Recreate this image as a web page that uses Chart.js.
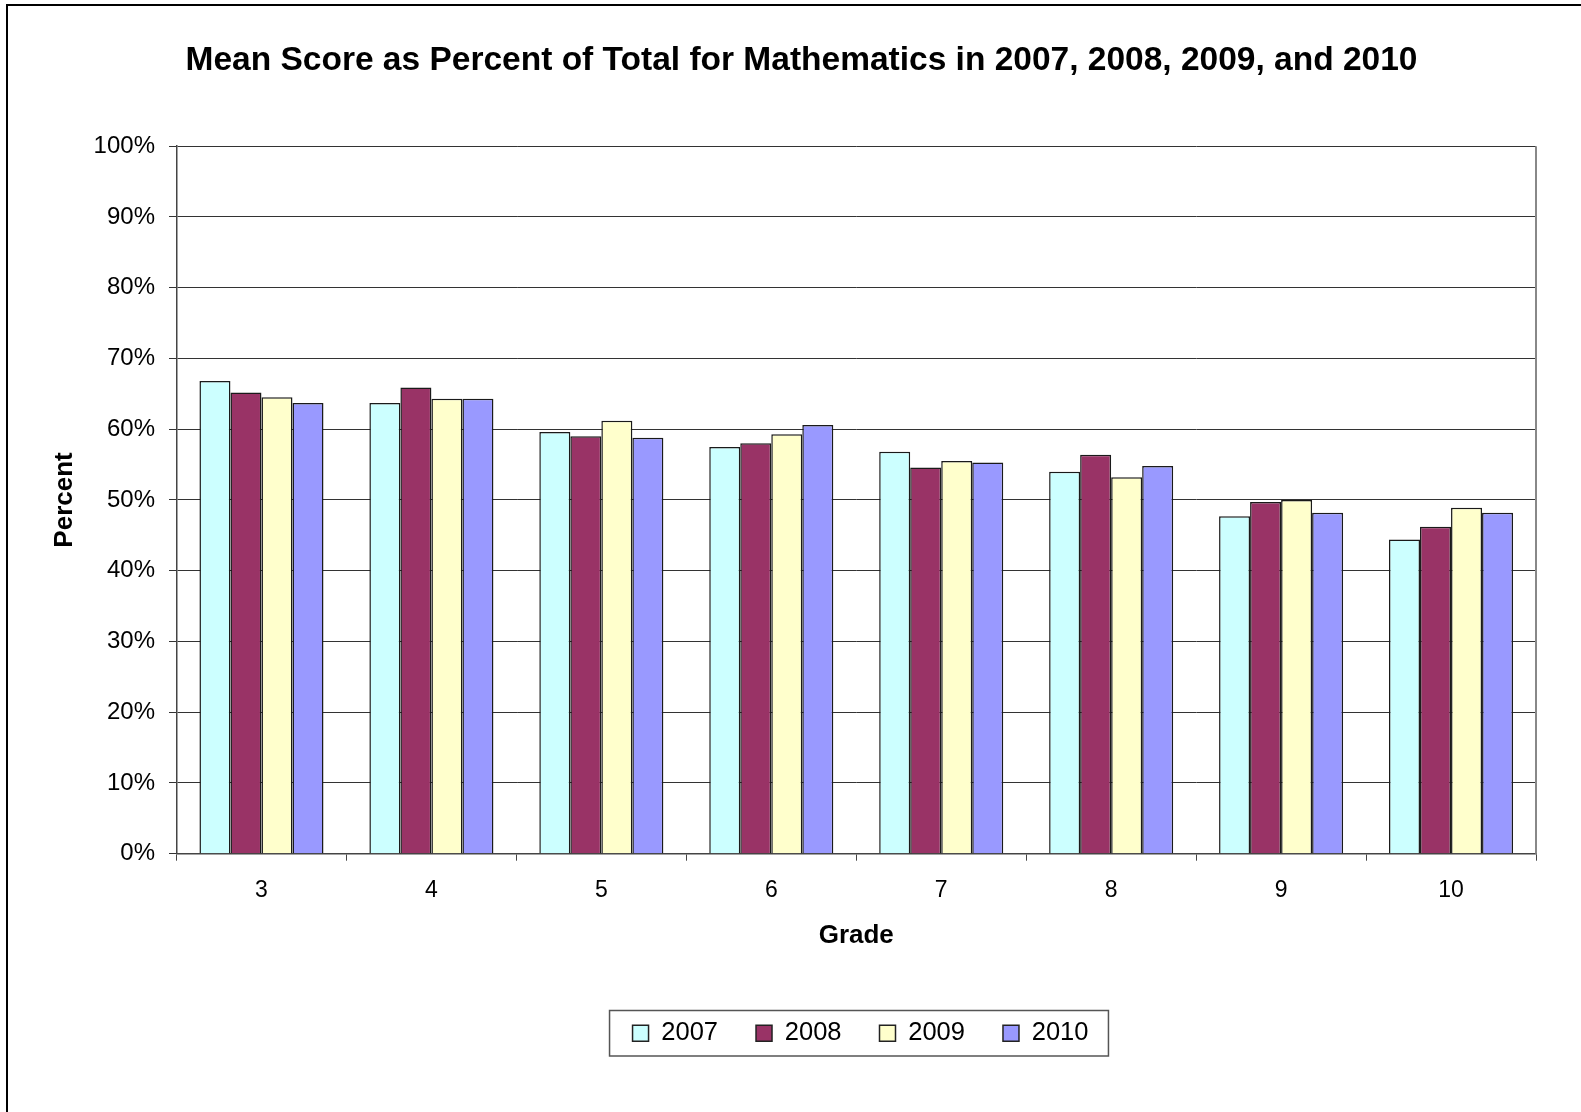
<!DOCTYPE html>
<html>
<head>
<meta charset="utf-8">
<script src="https://cdn.jsdelivr.net/npm/chart.js@4"></script>
<style>
  html, body { margin: 0; padding: 0; background: #fff; }
  #wrap { width: 1581px; height: 1112px; }
</style>
</head>
<body>
<div id="wrap"><canvas id="chart" width="1581" height="1112"></canvas></div>
<script>
// Grades and mean score (% of total) per year
const grades = ["3", "4", "5", "6", "7", "8", "9", "10"];
const y2007 = [66.8, 63.7, 59.6, 57.5, 56.8, 54.0, 47.7, 44.4];
const y2008 = [65.2, 65.9, 59.0, 58.0, 54.6, 56.4, 49.7, 46.2];
const y2009 = [64.5, 64.3, 61.2, 59.3, 55.5, 53.2, 50.0, 48.9];
const y2010 = [63.7, 64.3, 58.8, 60.6, 55.3, 54.8, 48.2, 48.2];
const yTicks = [0, 10, 20, 30, 40, 50, 60, 70, 80, 90, 100];

const FONT = "'Liberation Sans', Arial, sans-serif";

// white background, outer frame, plot right border, legend frame
const decor = {
    id: "decor",
    afterLayout(chart) {
        // legend sits centred under the plot, not the whole canvas
        const lg = chart.legend;
        lg.left += 68;
        lg.right += 68;
        const tb = chart.titleBlock;
        tb.left += 9;
        tb.right += 9;
    },
    beforeDraw(chart) {
        const ctx = chart.ctx;
        ctx.save();
        ctx.fillStyle = "#fff";
        ctx.fillRect(0, 0, chart.width, chart.height);
        ctx.strokeStyle = "#000";
        ctx.lineWidth = 2;
        ctx.strokeRect(7, 5, chart.width + 20, chart.height + 20);
        ctx.restore();
    },
    afterDraw(chart) {
        const ctx = chart.ctx;
        const a = chart.chartArea;
        ctx.save();
        ctx.strokeStyle = "#888";
        ctx.lineWidth = 2;
        ctx.beginPath();
        ctx.moveTo(a.right, a.top);
        ctx.lineTo(a.right, a.bottom);
        ctx.stroke();

        const boxes = chart.legend.legendHitBoxes;
        if (boxes && boxes.length) {
            let l = Infinity, r = -Infinity, t = Infinity, b = -Infinity;
            boxes.forEach(h => {
                l = Math.min(l, h.left); r = Math.max(r, h.left + h.width);
                t = Math.min(t, h.top); b = Math.max(b, h.top + h.height);
            });
            ctx.strokeStyle = "#555";
            ctx.lineWidth = 1.5;
            ctx.strokeRect(l - 23, t - 10, (r - l) + 43, (b - t) + 20);
        }
        ctx.restore();
    }
};

new Chart(document.getElementById("chart"), {
    type: "bar",
    data: {
        labels: grades,
        datasets: [
            { label: "2007", data: y2007, backgroundColor: "#CCFFFF" },
            { label: "2008", data: y2008, backgroundColor: "#993366" },
            { label: "2009", data: y2009, backgroundColor: "#FFFFCC" },
            { label: "2010", data: y2010, backgroundColor: "#9999FF" }
        ]
    },
    options: {
        responsive: false,
        animation: false,
        layout: { padding: { left: 49, right: 45, top: 0, bottom: 56 } },
        datasets: {
            bar: {
                borderColor: "#1a1a1a",
                borderWidth: 1.5,
                categoryPercentage: 0.73,
                barPercentage: 1
            }
        },
        plugins: {
            title: {
                display: true,
                text: "Mean Score as Percent of Total for Mathematics in 2007, 2008, 2009, and 2010",
                color: "#000",
                font: { family: FONT, size: 33.5, weight: "bold" },
                padding: { top: 40.5, bottom: 65.5 }
            },
            legend: {
                position: "bottom",
                labels: {
                    color: "#000",
                    font: { family: FONT, size: 25.5 },
                    boxWidth: 16,
                    boxHeight: 16,
                    padding: 38,
                    generateLabels(chart) {
                        return chart.data.datasets.map((ds, i) => ({
                            text: ds.label,
                            fillStyle: ds.backgroundColor,
                            strokeStyle: "#222",
                            lineWidth: 1.5,
                            datasetIndex: i
                        }));
                    }
                }
            },
            tooltip: { enabled: false }
        },
        scales: {
            x: {
                grid: {
                    offset: true,
                    drawOnChartArea: false,
                    drawTicks: true,
                    tickLength: 7,
                    color: "#444"
                },
                border: { color: "#444", width: 1.5 },
                ticks: {
                    color: "#000",
                    font: { family: FONT, size: 23 },
                    padding: 16
                },
                title: {
                    display: true,
                    text: "Grade",
                    color: "#000",
                    font: { family: FONT, size: 26, weight: "bold" },
                    padding: { top: 0, bottom: 31 }
                }
            },
            y: {
                min: 0,
                max: 100,
                afterBuildTicks(scale) {
                    scale.ticks = yTicks.map(v => ({ value: v }));
                },
                afterFit(scale) {
                    scale.width = 127.5;
                },
                grid: {
                    color: "#333",
                    lineWidth: 1,
                    tickLength: 7.5
                },
                border: { color: "#444", width: 1.5 },
                ticks: {
                    color: "#000",
                    font: { family: FONT, size: 24 },
                    padding: 14,
                    callback: v => v + "%"
                },
                title: {
                    display: true,
                    text: "Percent",
                    color: "#000",
                    font: { family: FONT, size: 26, weight: "bold" },
                    padding: 0
                }
            }
        }
    },
    plugins: [decor]
});
</script>
</body>
</html>
